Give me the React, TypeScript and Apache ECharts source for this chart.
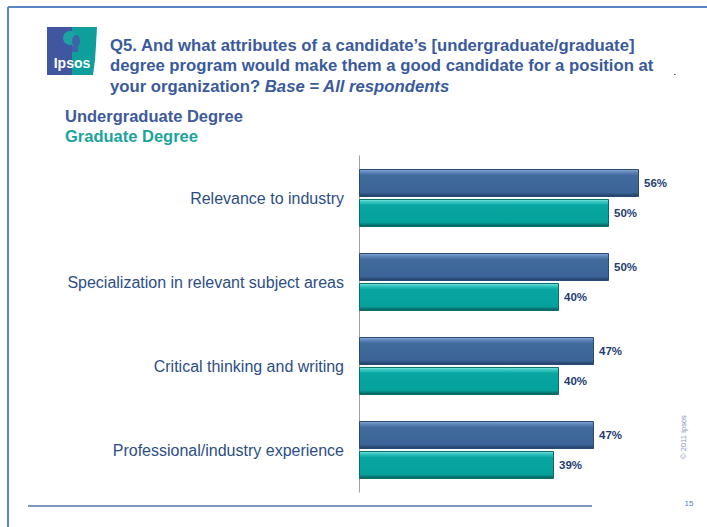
import React, { useEffect, useRef } from "react";
import * as echarts from "echarts";

const categories = [
  "Relevance to industry",
  "Specialization in relevant subject areas",
  "Critical thinking and writing",
  "Professional/industry experience",
];
const undergraduate = [56, 50, 47, 47];
const graduate = [50, 40, 40, 39];
const seriesNames = ["Undergraduate Degree", "Graduate Degree"];
const titleLines = [
  "Q5. And what attributes of a candidate\u2019s [undergraduate/graduate]",
  "degree program would make them a good candidate for a position at",
];
const titleLine3a = "your organization? ";
const titleLine3b = "Base = All respondents";

const FONT = "'Liberation Sans', Arial, sans-serif";

export default function App() {
  const ref = useRef<HTMLDivElement>(null);
  useEffect(() => {
    if (!ref.current) return;
    const chart = echarts.init(ref.current, undefined, { renderer: "svg" });
    const blueGrad = new echarts.graphic.LinearGradient(0, 0, 0, 1, [
      { offset: 0, color: "#8AAAD6" },
      { offset: 0.1, color: "#5F85BA" },
      { offset: 0.22, color: "#416A9D" },
      { offset: 0.85, color: "#3C6496" },
      { offset: 1, color: "#1F3B63" },
    ]);
    const tealGrad = new echarts.graphic.LinearGradient(0, 0, 0, 1, [
      { offset: 0, color: "#7BE3DE" },
      { offset: 0.1, color: "#33C4BE" },
      { offset: 0.22, color: "#08A6A0" },
      { offset: 0.85, color: "#06A19C" },
      { offset: 1, color: "#085855" },
    ]);
    const labelCfg = {
      show: true,
      position: "right" as const,
      distance: 5,
      formatter: "{c}%",
      color: "#1F3D73",
      fontWeight: "bold" as const,
      fontSize: 11.5,
      fontFamily: FONT,
    };
    const titleFont = `bold 16.7px ${FONT}`;
    chart.setOption({
      animation: false,
      textStyle: { fontFamily: FONT },
      grid: { left: 359, top: 156, height: 336, right: 48 },
      xAxis: {
        type: "value",
        min: 0,
        max: 60,
        show: false,
      },
      yAxis: {
        type: "category",
        inverse: true,
        data: categories,
        axisTick: { show: false },
        axisLine: { show: true, lineStyle: { color: "#A0A0A0", width: 1 } },
        axisLabel: {
          color: "#2D4E85",
          fontSize: 16,
          fontFamily: FONT,
          margin: 15,
        },
      },
      series: [
        {
          name: seriesNames[0],
          type: "bar",
          data: undergraduate,
          barWidth: 28,
          barGap: "7%",
          itemStyle: {
            color: blueGrad,
            borderColor: "#2A4A76",
            borderWidth: 1,
          },
          label: labelCfg,
        },
        {
          name: seriesNames[1],
          type: "bar",
          data: graduate,
          barWidth: 28,
          itemStyle: {
            color: tealGrad,
            borderColor: "#0B6D69",
            borderWidth: 1,
          },
          label: labelCfg,
        },
      ],
      graphic: [
        // slide frame
        { type: "line", shape: { x1: 8, y1: 7, x2: 707, y2: 7 }, style: { stroke: "#5B86C6", lineWidth: 2 } },
        { type: "line", shape: { x1: 8, y1: 7, x2: 8, y2: 527 }, style: { stroke: "#5B86C6", lineWidth: 2 } },
        { type: "line", shape: { x1: 28, y1: 506, x2: 592, y2: 506 }, style: { stroke: "#5570A8", lineWidth: 1.5 } },
        // logo
        { type: "rect", shape: { x: 47, y: 27, width: 26, height: 48 }, style: { fill: "#4056A1" } },
        {
          type: "polygon",
          shape: { points: [[72, 27], [97, 27], [96, 45], [95, 60], [93, 75], [72, 75]] },
          style: { fill: "#0E9E9C" },
        },
        { type: "circle", shape: { cx: 70, cy: 38, r: 7 }, style: { fill: "#1AA3A0" } },
        { type: "ellipse", shape: { cx: 76, cy: 41, rx: 4, ry: 6 }, style: { fill: "#3D64A8" } },
        { type: "rect", shape: { x: 72, y: 46, width: 6, height: 6 }, style: { fill: "#3D64A8" } },
        {
          type: "text",
          x: 72,
          y: 63,
          style: {
            text: "Ipsos",
            fill: "#ffffff",
            font: `bold 14px ${FONT}`,
            textAlign: "center",
            textVerticalAlign: "middle",
          },
        },
        // title
        {
          type: "text",
          x: 110,
          y: 45,
          style: { text: titleLines[0], fill: "#3A5A9C", font: titleFont, textVerticalAlign: "middle" },
        },
        {
          type: "text",
          x: 110,
          y: 65,
          style: { text: titleLines[1], fill: "#3A5A9C", font: titleFont, textVerticalAlign: "middle" },
        },
        {
          type: "text",
          x: 110,
          y: 86,
          style: {
            text: `{a|${titleLine3a}}{b|${titleLine3b}}`,
            textVerticalAlign: "middle",
            rich: {
              a: { fill: "#3A5A9C", fontWeight: "bold", fontSize: 16.7, fontFamily: FONT },
              b: { fill: "#3A5A9C", fontWeight: "bold", fontStyle: "italic", fontSize: 16.7, fontFamily: FONT },
            },
          },
        },
        // legend texts
        {
          type: "text",
          x: 65,
          y: 116,
          style: { text: seriesNames[0], fill: "#3F5A9A", font: `bold 16.5px ${FONT}`, textVerticalAlign: "middle" },
        },
        {
          type: "text",
          x: 65,
          y: 136,
          style: { text: seriesNames[1], fill: "#1BA39C", font: `bold 16.5px ${FONT}`, textVerticalAlign: "middle" },
        },
        // copyright
        {
          type: "text",
          x: 683,
          y: 437,
          rotation: Math.PI / 2,
          style: {
            text: "\u00a9 2011 Ipsos",
            fill: "#7A90C0",
            font: `7.5px ${FONT}`,
            textAlign: "center",
            textVerticalAlign: "middle",
          },
        },
        {
          type: "text",
          x: 689,
          y: 503,
          style: {
            text: "15",
            fill: "#5A7AC0",
            font: `8px ${FONT}`,
            textAlign: "center",
            textVerticalAlign: "middle",
          },
        },
        { type: "rect", shape: { x: 674, y: 74, width: 1.5, height: 1 }, style: { fill: "#3A5A9C" } },
      ],
    });
    return () => chart.dispose();
  }, []);
  return (
    <div
      ref={ref}
      style={{ position: "fixed", left: 0, top: 0, width: 707, height: 527, background: "#ffffff" }}
    />
  );
}
